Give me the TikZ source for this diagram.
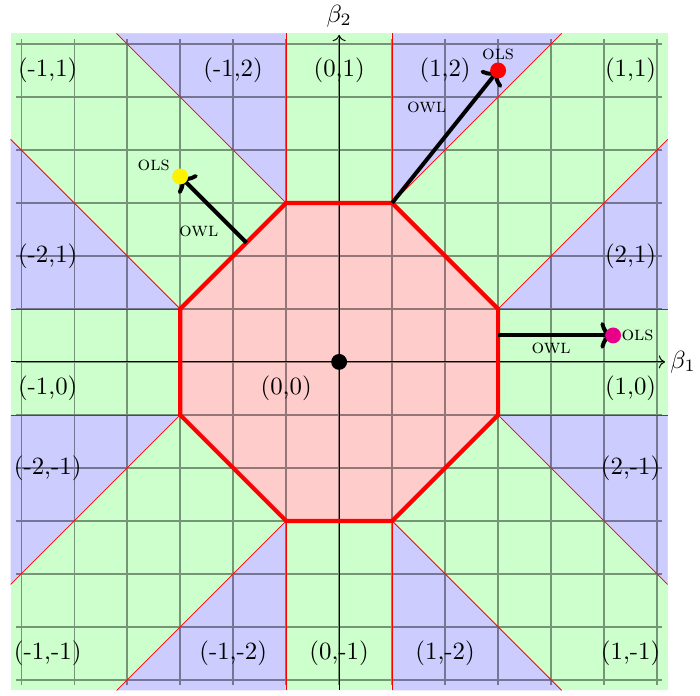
\documentclass[tikz,border=0pt]{standalone}
\usetikzlibrary{arrows.meta}
\definecolor{dotpink}{RGB}{232,0,136}
\tikzset{
  regionfill/.style={fill=green!20, draw=none},
  bluefill/.style={fill=blue!20, draw=none},
  gridlines/.style={black, opacity=0.42, line width=0.55pt},
  boundary/.style={red, line width=0.3pt},
  octedge/.style={red, line width=1.7pt, line join=miter},
  owlarrow/.style={->, black, line width=1.6pt},
  dot/.style={circle, inner sep=0pt, minimum size=0.225cm},
  regionlabel/.style={inner sep=1pt},
  tinylabel/.style={font=\footnotesize\scshape, inner sep=0pt},
}
\begin{document}
\begin{tikzpicture}[x=0.75cm, y=0.75cm]
\useasboundingbox (-6.40,-6.30) rectangle (6.81,6.83);
\def\E{6.2}
% background
\fill[regionfill] (-\E,-\E) rectangle (\E,\E);
% blue regions
\fill[bluefill] (1,3) -- (1,\E) -- (4.2,\E) -- cycle;
\fill[bluefill] (3,1) -- (\E,1) -- (\E,4.2) -- cycle;
\fill[bluefill] (-1,3) -- (-1,\E) -- (-4.2,\E) -- cycle;
\fill[bluefill] (-3,1) -- (-\E,1) -- (-\E,4.2) -- cycle;
\fill[bluefill] (-3,-1) -- (-\E,-1) -- (-\E,-4.2) -- cycle;
\fill[bluefill] (-1,-3) -- (-1,-\E) -- (-4.2,-\E) -- cycle;
\fill[bluefill] (1,-3) -- (1,-\E) -- (4.2,-\E) -- cycle;
\fill[bluefill] (3,-1) -- (\E,-1) -- (\E,-4.2) -- cycle;
% octagon vertices
\coordinate (v1) at (1,3);
\coordinate (v2) at (3,1);
\coordinate (v3) at (3,-1);
\coordinate (v4) at (1,-3);
\coordinate (v5) at (-1,-3);
\coordinate (v6) at (-3,-1);
\coordinate (v7) at (-3,1);
\coordinate (v8) at (-1,3);
\fill[red!20] (v1) -- (v2) -- (v3) -- (v4) -- (v5) -- (v6) -- (v7) -- (v8) -- cycle;
% grid
\draw[gridlines, step=1] (-6.1,-6.1) grid (6.1,6.1);
% region boundaries
\draw[boundary] (v1) -- (1,\E);
\draw[boundary] (v1) -- (4.2,\E);
\draw[boundary] (v2) -- (\E,1);
\draw[boundary] (v2) -- (\E,4.2);
\draw[boundary] (v3) -- (\E,-1);
\draw[boundary] (v3) -- (\E,-4.2);
\draw[boundary] (v4) -- (1,-\E);
\draw[boundary] (v4) -- (4.2,-\E);
\draw[boundary] (v5) -- (-1,-\E);
\draw[boundary] (v5) -- (-4.2,-\E);
\draw[boundary] (v6) -- (-\E,-1);
\draw[boundary] (v6) -- (-\E,-4.2);
\draw[boundary] (v7) -- (-\E,1);
\draw[boundary] (v7) -- (-\E,4.2);
\draw[boundary] (v8) -- (-1,\E);
\draw[boundary] (v8) -- (-4.2,\E);
% axes
\coordinate (xl) at (-\E,0);
\coordinate (xr) at (6.15,0);
\coordinate (yb) at (0,-\E);
\coordinate (yt) at (0,6.17);
\draw[->] (xl) -- (xr) node[right, inner sep=2pt] (b1) {$\beta_1$};
\draw[->] (yb) -- (yt) node[above, inner sep=3pt] (b2) {$\beta_2$};
% octagon edge
\draw[octedge] (v1) -- (v2) -- (v3) -- (v4) -- (v5) -- (v6) -- (v7) -- (v8) -- cycle;
% OLS points
\coordinate (owlA) at (-1.75,2.25);
\coordinate (owlB) at (1,3);
\coordinate (owlC) at (3,0.5);
\node[dot] (olsA) at (-3,3.5) {};
\node[dot] (olsB) at (3,5.5) {};
\node[dot] (olsC) at (5.17,0.5) {};
\draw[owlarrow] (owlA) -- (olsA.center);
\draw[owlarrow] (owlB) -- (olsB.center);
\draw[owlarrow] (owlC) -- (olsC.center);
\fill[yellow] (olsA) circle[radius=0.15];
\fill[red] (olsB) circle[radius=0.15];
\fill[dotpink] (olsC) circle[radius=0.15];
\node[dot, fill=black] (origin) at (0,0) {};
% small labels
\node[tinylabel] (tA1) at (-3.5,3.7) {ols};
\node[tinylabel] (tA2) at (-2.65,2.47) {owl};
\node[tinylabel] (tB1) at (3,5.8) {ols};
\node[tinylabel] (tB2) at (1.65,4.8) {owl};
\node[tinylabel] (tC1) at (5.63,0.5) {ols};
\node[tinylabel] (tC2) at (4,0.25) {owl};
% region labels
\node[regionlabel] (r1) at (-5.5,5.5) {(-1,1)};
\node[regionlabel] (r2) at (-2,5.5) {(-1,2)};
\node[regionlabel] (r3) at (0,5.5) {(0,1)};
\node[regionlabel] (r4) at (2,5.5) {(1,2)};
\node[regionlabel] (r5) at (5.5,5.5) {(1,1)};
\node[regionlabel] (r6) at (-5.5,2) {(-2,1)};
\node[regionlabel] (r7) at (5.5,2) {(2,1)};
\node[regionlabel] (r8) at (-5.5,-0.5) {(-1,0)};
\node[regionlabel] (r9) at (-1,-0.5) {(0,0)};
\node[regionlabel] (r10) at (5.5,-0.5) {(1,0)};
\node[regionlabel] (r11) at (-5.5,-2) {(-2,-1)};
\node[regionlabel] (r12) at (5.5,-2) {(2,-1)};
\node[regionlabel] (r13) at (-5.5,-5.5) {(-1,-1)};
\node[regionlabel] (r14) at (-2,-5.5) {(-1,-2)};
\node[regionlabel] (r15) at (0,-5.5) {(0,-1)};
\node[regionlabel] (r16) at (2,-5.5) {(1,-2)};
\node[regionlabel] (r17) at (5.5,-5.5) {(1,-1)};
\end{tikzpicture}
\end{document}
